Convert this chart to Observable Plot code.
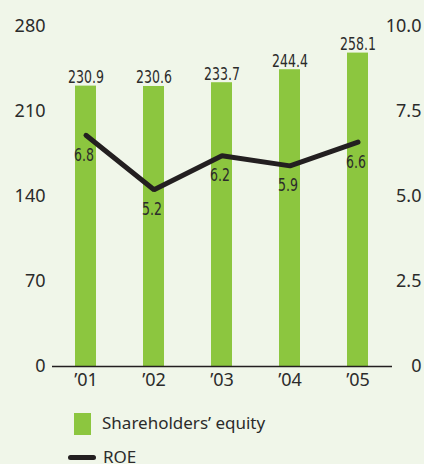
<!DOCTYPE html>
<html>
<head>
<meta charset="utf-8">
<script src="https://cdn.jsdelivr.net/npm/d3@7"></script>
<script src="https://cdn.jsdelivr.net/npm/@observablehq/plot@0.6"></script>
<style>
  html, body { margin: 0; padding: 0; background: #f0f6e9; }
  #wrap { position: relative; width: 424px; height: 464px; overflow: hidden; background: #f0f6e9; font-family: "Noto Sans", sans-serif; color: #2b2b2b; }
  .lg { position: absolute; font-size: 17px; line-height: 1; }
  .vlab text { font-family: "DejaVu Sans Condensed", "DejaVu Sans", sans-serif; font-stretch: condensed; }
</style>
</head>
<body>
<div id="wrap">
  <div id="chart"></div>
  <div class="lg" style="left:74px;top:413px;width:17px;height:22px;background:#8cc63f;"></div>
  <div class="lg" style="left:102px;top:414px;">Shareholders’ equity</div>
  <div class="lg" style="left:68px;top:455px;width:28px;height:5px;border-radius:3px;background:#231f20;"></div>
  <div class="lg" style="left:103px;top:448px;">ROE</div>
</div>
<script>
const years = ["’01", "’02", "’03", "’04", "’05"];
const equity = [230.9, 230.6, 233.7, 244.4, 258.1];
const roe = [6.8, 5.2, 6.2, 5.9, 6.6];
const leftTicks = [0, 70, 140, 210, 280];
const rightTickLabels = ["0", "2.5", "5.0", "7.5", "10.0"];
const roeMax = 10.0;
const equityMax = 280;

const data = years.map((y, i) => ({year: y, equity: equity[i], roe: roe[i]}));
const k = equityMax / roeMax;

const chart = Plot.plot({
  width: 424,
  height: 400,
  marginLeft: 52,
  marginRight: 32,
  marginTop: 26,
  marginBottom: 34,
  style: {background: "transparent", color: "#2b2b2b"},
  x: {type: "band", domain: years, paddingInner: 0.69, paddingOuter: 0.345},
  y: {domain: [0, equityMax]},
  marks: [
    Plot.barY(data, {x: "year", y: "equity", fill: "#8cc63f"}),
    Plot.ruleY([0], {stroke: "#231f20", strokeWidth: 1.5}),
    Plot.axisY({ticks: leftTicks, tickSize: 0, tickPadding: 7, fontSize: 18, fontFamily: "Noto Sans", label: null, fill: "#2b2b2b"}),
    Plot.axisY({anchor: "right", ticks: leftTicks, tickSize: 0, tickPadding: 0, textAnchor: "end", dx: 29,
      tickFormat: (d) => rightTickLabels[leftTicks.indexOf(d)], fontSize: 18, fontFamily: "Noto Sans", label: null, fill: "#2b2b2b"}),
    Plot.axisX({tickSize: 0, tickPadding: 7, fontSize: 18, fontFamily: "Noto Sans", label: null, fill: "#2b2b2b"}),
    Plot.text(data, {x: "year", y: "equity", text: (d) => d.equity.toFixed(1), dy: -3, lineAnchor: "bottom",
      fontSize: 17, className: "vlab", fill: "#2b2b2b"}),
    Plot.lineY(data, {x: "year", y: (d) => d.roe * k, stroke: "#231f20", strokeWidth: 5, strokeLinejoin: "miter"}),
    Plot.text(data, {x: "year", y: (d) => d.roe * k, text: (d) => d.roe.toFixed(1), dy: 20, dx: -2,
      fontSize: 17, className: "vlab", fill: "#2b2b2b"})
  ]
});
d3.select(chart).selectAll(".vlab text").each(function () {
  const t = this.getAttribute("transform") || "";
  this.setAttribute("transform", (t + " scale(0.82,1)").trim());
});
document.getElementById("chart").appendChild(chart);
</script>
</body>
</html>
